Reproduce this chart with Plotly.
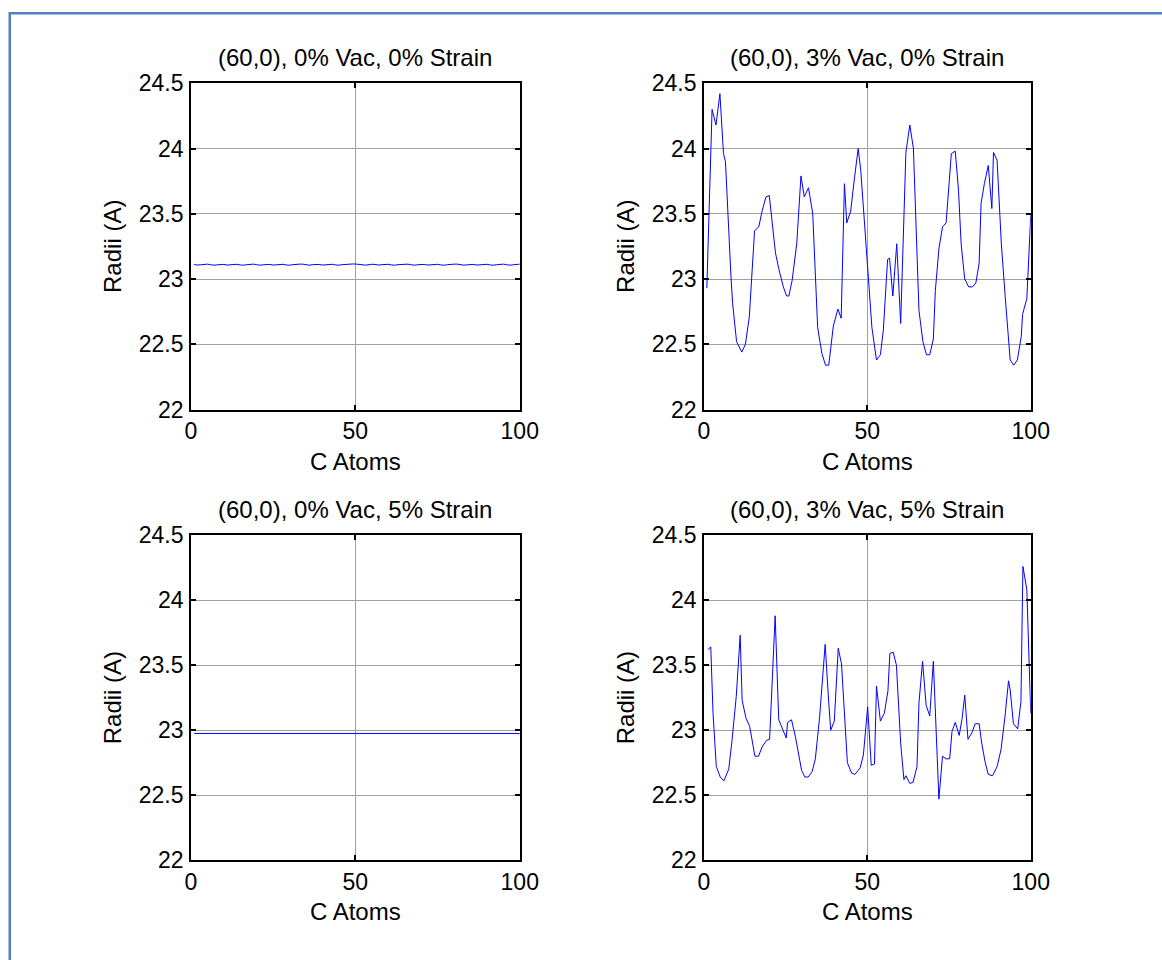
import plotly.graph_objects as go

# ---------------- data ----------------
titles = ["(60,0), 0% Vac, 0% Strain", "(60,0), 3% Vac, 0% Strain",
          "(60,0), 0% Vac, 5% Strain", "(60,0), 3% Vac, 5% Strain"]
x_label = "C Atoms"
y_label = "Radii (A)"
x_ticks = [0, 50, 100]
y_ticks = [22, 22.5, 23, 23.5, 24, 24.5]
y_ticktext = ["22", "22.5", "23", "23.5", "24", "24.5"]

# top-left: 0% vac, 0% strain (nearly flat, tiny ripple)
x_tl = list(range(1, 101))
y_tl = [23.112, 23.107, 23.109, 23.113, 23.114, 23.110, 23.106, 23.109, 23.113, 23.112,
        23.107, 23.110, 23.114, 23.113, 23.108, 23.106, 23.110, 23.113, 23.114, 23.110,
        23.106, 23.109, 23.113, 23.112, 23.107, 23.110, 23.114, 23.113, 23.108, 23.106,
        23.110, 23.114, 23.114, 23.114, 23.109, 23.106, 23.110, 23.113, 23.112, 23.107,
        23.110, 23.114, 23.113, 23.108, 23.106, 23.110, 23.113, 23.115, 23.115, 23.115,
        23.115, 23.110, 23.106, 23.110, 23.113, 23.112, 23.107, 23.110, 23.114, 23.113,
        23.108, 23.106, 23.110, 23.113, 23.114, 23.114, 23.109, 23.106, 23.110, 23.113,
        23.112, 23.107, 23.110, 23.114, 23.113, 23.108, 23.106, 23.110, 23.114, 23.114,
        23.114, 23.110, 23.106, 23.109, 23.113, 23.112, 23.107, 23.110, 23.114, 23.113,
        23.108, 23.106, 23.110, 23.113, 23.114, 23.110, 23.106, 23.109, 23.113, 23.114]

# top-right: 3% vac, 0% strain
x_tr = [0.9, 2.5, 3.7, 4.9, 6.0, 6.6, 8.3, 8.8, 10.0, 11.6, 12.7, 13.9, 15.5, 16.8, 17.8,
        19.0, 20.0, 21.9, 22.9, 24.3, 25.3, 26.0, 27.0, 28.4, 29.7, 30.7, 32.0, 33.3, 34.8,
        36.1, 37.2, 38.2, 39.6, 41.0, 42.0, 43.0, 43.7, 44.9, 46.1, 47.2, 48.0, 51.4, 52.8,
        54.0, 54.9, 56.2, 56.8, 57.8, 59.0, 60.2, 61.8, 63.0, 64.1, 65.8, 67.0, 68.1, 69.1,
        70.2, 70.8, 71.9, 73.0, 74.1, 75.7, 76.9, 77.9, 78.7, 79.8, 81.0, 82.2, 83.2, 84.2,
        84.8, 85.8, 87.0, 88.1, 88.6, 89.7, 91.0, 92.2, 93.7, 94.8, 95.9, 97.1, 97.5, 98.8,
        100.0]
y_tr = [22.93, 24.30, 24.18, 24.42, 23.96, 23.90, 23.01, 22.81, 22.52, 22.44, 22.50, 22.71,
        23.37, 23.40, 23.52, 23.63, 23.64, 23.20, 23.08, 22.94, 22.87, 22.87, 22.99, 23.27,
        23.79, 23.63, 23.70, 23.50, 22.63, 22.43, 22.34, 22.34, 22.64, 22.77, 22.70, 23.73,
        23.43, 23.52, 23.78, 24.00, 23.83, 22.63, 22.38, 22.42, 22.61, 23.15, 23.16, 22.87,
        23.27, 22.66, 23.97, 24.18, 24.00, 22.76, 22.52, 22.42, 22.42, 22.54, 22.91, 23.23,
        23.40, 23.43, 23.96, 23.98, 23.68, 23.27, 23.00, 22.94, 22.94, 22.97, 23.12, 23.58,
        23.73, 23.87, 23.54, 23.97, 23.91, 23.27, 22.86, 22.38, 22.34, 22.38, 22.56, 22.73,
        22.85, 23.49]

# bottom-left: 0% vac, 5% strain (flat)
x_bl = list(range(1, 101))
y_bl = [22.975] * 100

# bottom-right: 3% vac, 5% strain
x_br = [1.2, 2.1, 2.8, 3.8, 5.0, 6.1, 7.6, 8.6, 9.9, 11.1, 11.7, 12.9, 14.0, 14.8, 15.6,
        16.7, 17.8, 19.1, 20.1, 21.8, 22.9, 24.2, 25.2, 25.6, 26.8, 28.0, 29.0, 29.9, 30.9,
        31.9, 33.1, 34.1, 35.4, 37.1, 38.2, 38.8, 39.9, 41.1, 42.1, 42.9, 43.9, 45.2, 46.2,
        47.8, 48.8, 50.1, 51.2, 52.2, 52.8, 54.0, 55.2, 56.3, 56.9, 57.9, 58.9, 60.2, 61.2,
        61.8, 63.0, 64.0, 65.2, 65.8, 66.9, 68.0, 69.1, 70.2, 71.9, 73.0, 74.1, 75.2, 75.9,
        76.9, 78.1, 79.0, 79.8, 80.8, 82.0, 83.0, 84.2, 85.0, 86.0, 87.0, 88.3, 89.7, 90.9,
        92.1, 93.2, 93.7, 94.7, 96.0, 97.0, 97.6, 98.8, 100.0]
y_br = [23.62, 23.64, 23.13, 22.72, 22.64, 22.61, 22.70, 22.92, 23.26, 23.73, 23.23, 23.09,
        23.03, 22.92, 22.80, 22.80, 22.87, 22.92, 22.93, 23.88, 23.08, 23.00, 22.94, 23.06,
        23.08, 22.95, 22.82, 22.69, 22.64, 22.64, 22.68, 22.78, 23.10, 23.66, 23.21, 23.00,
        23.07, 23.63, 23.51, 23.13, 22.75, 22.67, 22.66, 22.71, 22.81, 23.18, 22.73, 22.74,
        23.34, 23.07, 23.13, 23.30, 23.59, 23.60, 23.50, 22.90, 22.62, 22.65, 22.59, 22.60,
        22.72, 23.21, 23.53, 23.19, 23.11, 23.53, 22.47, 22.80, 22.78, 22.78, 22.99, 23.06,
        22.96, 23.09, 23.27, 22.93, 22.98, 23.05, 23.05, 22.90, 22.76, 22.66, 22.65, 22.72,
        22.85, 23.10, 23.38, 23.31, 23.05, 23.01, 23.22, 24.26, 24.08, 23.13]

series = [(x_tl, y_tl), (x_tr, y_tr), (x_bl, y_bl), (x_br, y_br)]

# ---------------- layout ----------------
W, H = 1162, 960
FONT = "Liberation Sans, Arial, sans-serif"
FS_TICK = 23
FS_TEXT = 24

# observed capture mapping (screen = a + s * layout)
AX, SX = 5.24, 0.9804
AY, SY = 11.68, 0.9736


def lx(p):
    return (p - AX) / SX


def ly(p):
    return (p - AY) / SY


# target screen positions of plot areas
col_px = [(190.5, 520.0), (704.5, 1032.0)]
row_px = [(82.0, 408.5), (534.2, 859.5)]
title_y = [56.5, 508.5]
xlab_y = [460, 911]
ylab_x = [112, 626]

fig = go.Figure()
layout = dict(
    width=W, height=H,
    margin=dict(l=0, r=0, t=0, b=0),
    paper_bgcolor="white", plot_bgcolor="white",
    showlegend=False,
    font=dict(family=FONT, size=FS_TICK, color="black"),
)
annotations = []
for i, (xs, ys) in enumerate(series):
    r, c = divmod(i, 2)
    n = i + 1
    xa = "x" if n == 1 else f"x{n}"
    ya = "y" if n == 1 else f"y{n}"
    fig.add_trace(go.Scatter(x=xs, y=ys, mode="lines",
                             line=dict(color="#0000ff", width=1),
                             xaxis=xa, yaxis=ya, hoverinfo="skip"))
    x0, x1 = lx(col_px[c][0]), lx(col_px[c][1])
    y0, y1 = ly(row_px[r][0]), ly(row_px[r][1])
    xdom = [x0 / W, x1 / W]
    ydom = [1 - y1 / H, 1 - y0 / H]
    common = dict(showline=True, linecolor="black", linewidth=1.5, mirror="ticks",
                  ticks="inside", ticklen=5, tickwidth=1.5, tickcolor="black",
                  showgrid=True, gridcolor="#a0a0a0", gridwidth=1, zeroline=False,
                  tickfont=dict(family=FONT, size=FS_TICK, color="black"))
    layout["xaxis" if n == 1 else f"xaxis{n}"] = dict(
        domain=xdom, range=[0, 100], tickvals=x_ticks, ticktext=[str(v) for v in x_ticks],
        anchor=ya, ticklabelstandoff=0, **common)
    layout["yaxis" if n == 1 else f"yaxis{n}"] = dict(
        domain=ydom, range=[22, 24.5], tickvals=y_ticks, ticktext=y_ticktext,
        anchor=xa, ticklabelstandoff=1, **common)
    xc = (x0 + x1) / 2 / W
    annotations.append(dict(text=titles[i], x=xc, y=1 - ly(title_y[r]) / H,
                            xref="paper", yref="paper", xanchor="center", yanchor="middle",
                            showarrow=False, font=dict(family=FONT, size=FS_TEXT, color="black")))
    annotations.append(dict(text=x_label, x=xc, y=1 - ly(xlab_y[r]) / H,
                            xref="paper", yref="paper", xanchor="center", yanchor="middle",
                            showarrow=False, font=dict(family=FONT, size=FS_TEXT, color="black")))
    annotations.append(dict(text=y_label, x=lx(ylab_x[c]) / W, y=1 - (y0 + y1) / 2 / H,
                            xref="paper", yref="paper", textangle=-90,
                            xanchor="center", yanchor="middle", showarrow=False,
                            font=dict(family=FONT, size=FS_TEXT, color="black")))

layout["annotations"] = annotations
layout["shapes"] = [dict(type="rect", xref="paper", yref="paper",
                         x0=lx(9) / W, x1=1.05, y0=-0.05, y1=1 - ly(12) / H,
                         line=dict(color="#4f81bd", width=2.5), layer="above")]
fig.update_layout(**layout)

post = ("document.documentElement.style.margin='0';"
        "document.documentElement.style.padding='0';"
        "document.documentElement.style.overflow='hidden';"
        "document.body.style.margin='0';document.body.style.padding='0';"
        "document.body.style.overflow='hidden';"
        "var d=document.getElementById('{plot_id}');"
        "d.style.position='fixed';d.style.left='0px';d.style.top='0px';")
fig.write_html("out.html", post_script=post, config={"displayModeBar": False})
